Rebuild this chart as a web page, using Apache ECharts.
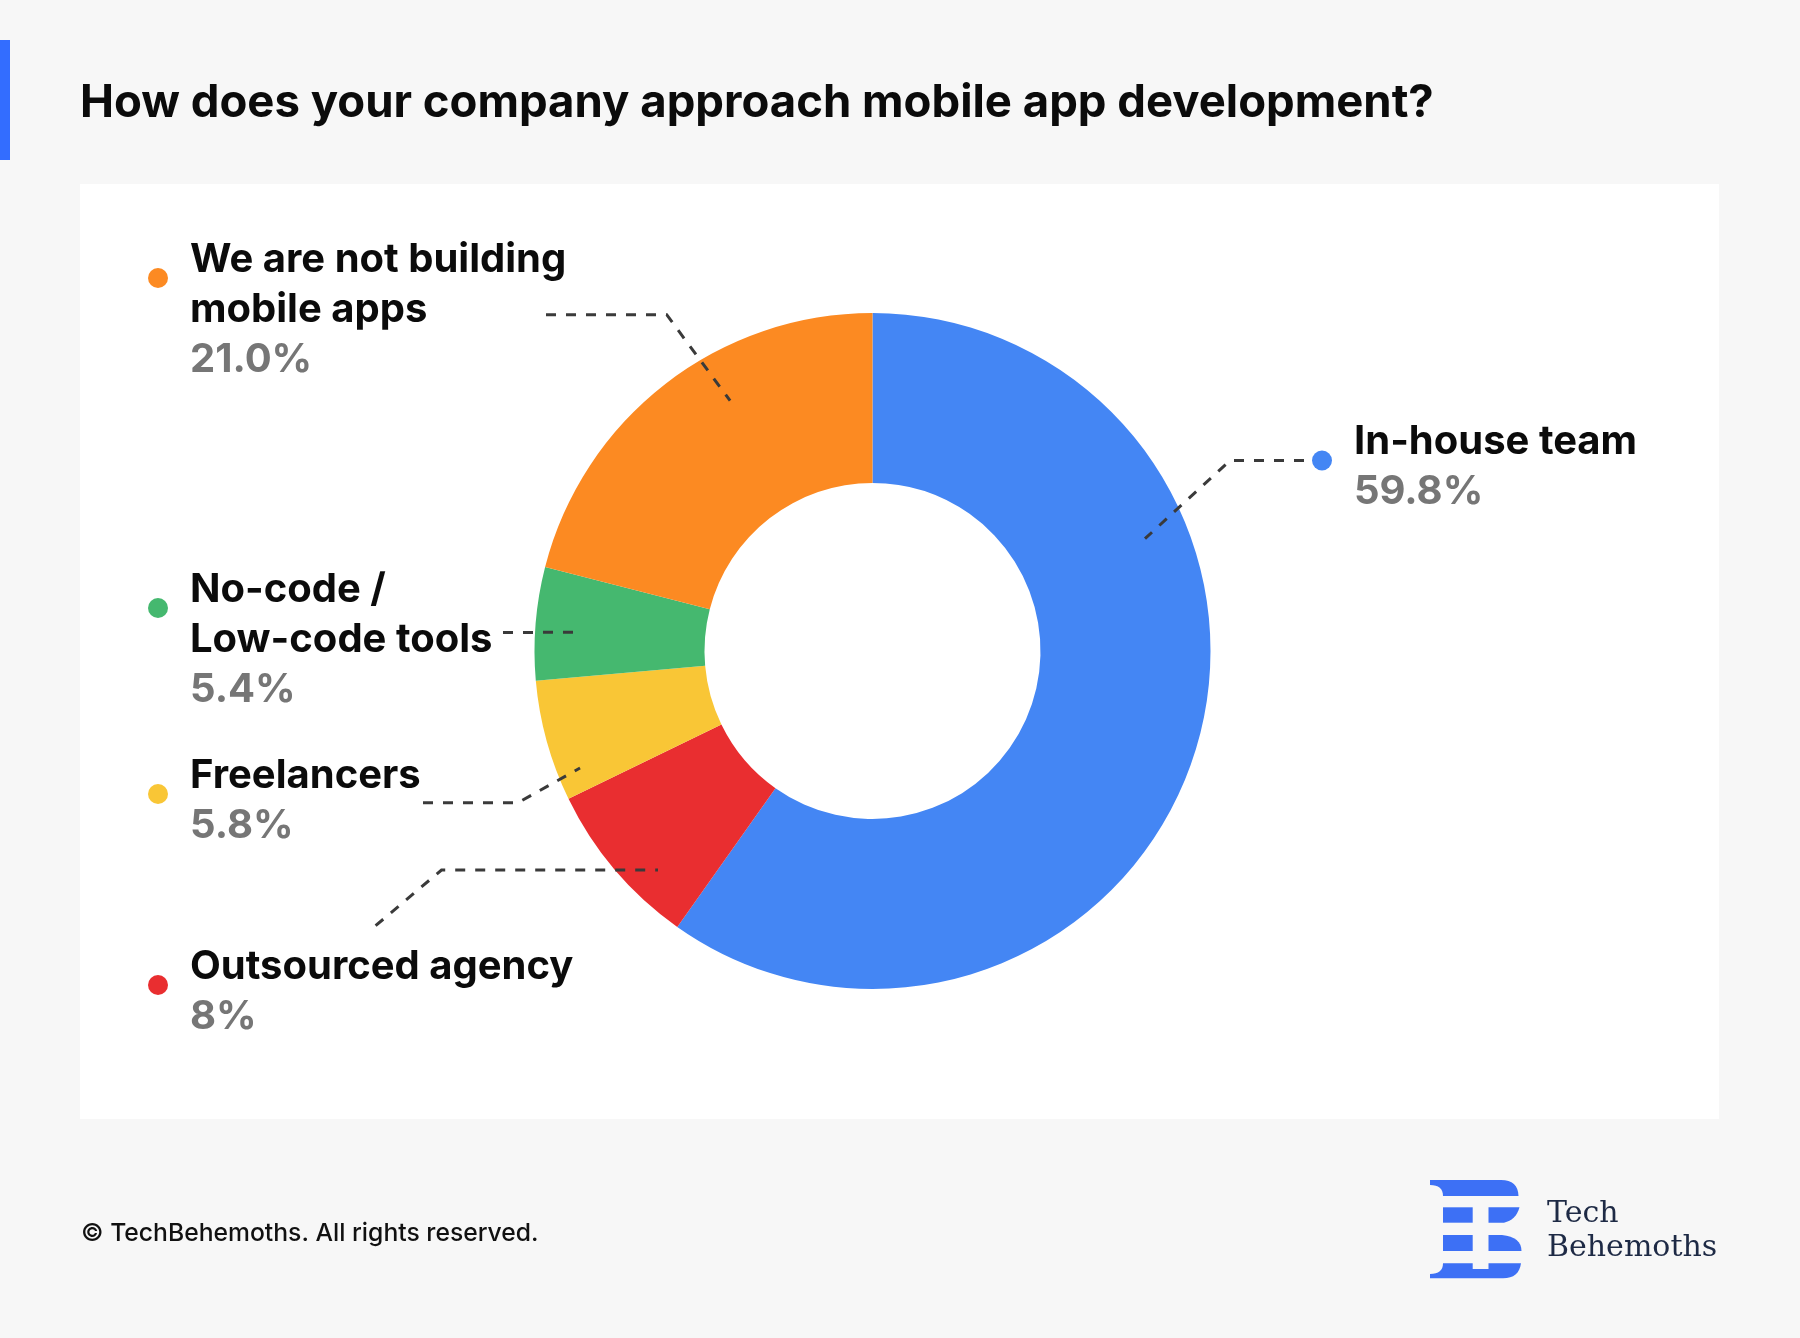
<!DOCTYPE html>
<html>
<head>
<meta charset="utf-8">
<script src="https://cdn.jsdelivr.net/npm/echarts@6.0.0/dist/echarts.min.js"></script>
<style>
  html, body { margin: 0; padding: 0; background: #f7f7f7; }
  #chart { width: 1800px; height: 1338px; }
</style>
</head>
<body>
<div id="chart"></div>
<script>
// data (share of respondents, %)
const categories = ['In-house team', 'Outsourced agency', 'Freelancers', 'No-code /\nLow-code tools', 'We are not building\nmobile apps'];
const shares = [59.8, 8, 5.8, 5.4, 21.0];
const shareDecimals = [1, 0, 1, 1, 1];
const colors = ['#4486f4', '#e92e30', '#f9c636', '#45b86f', '#fc8a22'];

// layout
const CX = 872.5, CY = 651, R_IN = 168, R_OUT = 338;
const LINE_H = 50;
const FONT = 'Inter';
const LOGO_BLUE = '#3d70f5';
// x = left of label text, y = middle of first text line
// t / rf = where the leader starts inside the slice (fraction of slice angle / of outer radius)
const labelSpots = [
  { x: 1354, y: 442, t: 0.314, rf: 0.872, bend: [1230, 460.5], end: [1304, 460.5] },
  { x: 190, y: 966.5, t: 0.317, rf: 0.907, bend: [441.5, 870], end: [375.6, 925.7] },
  { x: 190, y: 775.5, t: 0.197, rf: 0.932, bend: [518, 802.7], end: [423, 802.7] },
  { x: 190, y: 589.5, t: 0.444, rf: 0.885, bend: null, end: [503, 632.5] },
  { x: 190, y: 259.5, t: 0.608, rf: 0.852, bend: [666.7, 314.7], end: [546, 314.7] }
];

const total = shares.reduce((a, b) => a + b, 0);

// point inside slice i (angles clockwise from 12 o'clock, like the pie)
function anchorAt(i, t, rf) {
  let before = 0;
  for (let k = 0; k < i; k++) before += shares[k];
  const deg = (before + shares[i] * t) / total * 360;
  const rad = deg * Math.PI / 180;
  const r = R_OUT * rf;
  return [CX + r * Math.sin(rad), CY - r * Math.cos(rad)];
}

// dashed leader lines, drawn over the ring (label end first)
const leaders = labelSpots.map((s, i) => {
  const pts = [s.end];
  if (s.bend) pts.push(s.bend);
  pts.push(anchorAt(i, s.t, s.rf));
  return {
    type: 'polyline',
    z: 20,
    shape: { points: pts },
    style: { stroke: '#3a3a3a', lineWidth: 3, lineDash: [10, 10], fill: null }
  };
});

// polygon outline from straight points and quadratic curves ({c: ctrl, p: end})
function outline(steps) {
  const pts = [];
  steps.forEach(s => {
    if (Array.isArray(s)) { pts.push(s); return; }
    const p0 = pts[pts.length - 1];
    for (let k = 1; k <= 8; k++) {
      const t = k / 8, u = 1 - t;
      pts.push([u * u * p0[0] + 2 * u * t * s.c[0] + t * t * s.p[0], u * u * p0[1] + 2 * u * t * s.c[1] + t * t * s.p[1]]);
    }
  });
  return { type: 'polygon', shape: { points: pts }, style: { fill: LOGO_BLUE } };
}

const chart = echarts.init(document.getElementById('chart'));

chart.setOption({
  animation: false,
  backgroundColor: '#f7f7f7',
  title: {
    text: 'How does your company approach mobile app development?',
    left: 80,
    top: 80,
    padding: 0,
    textStyle: { fontFamily: FONT, fontSize: 45.5, fontWeight: 700, color: '#0b0b0b', lineHeight: 46 }
  },
  legend: categories.map((name, i) => ({
    data: [name],
    left: labelSpots[i].x - 32 - 10,
    top: labelSpots[i].y + 18.5 - 10,
    padding: 0,
    itemWidth: 20,
    itemHeight: 20,
    icon: 'circle',
    selectedMode: false,
    formatter: () => ''
  })),
  graphic: [
    { type: 'rect', z: -10, shape: { x: 80, y: 184, width: 1639, height: 935 }, style: { fill: '#ffffff' } },
    { type: 'rect', shape: { x: 0, y: 40, width: 10, height: 120 }, style: { fill: '#336dff' } },
    {
      type: 'text',
      style: { text: '\u00a9 TechBehemoths. All rights reserved.', x: 81, y: 1234, verticalAlign: 'middle', font: '500 24.7px Inter', fill: '#111111' }
    },
    {
      type: 'text',
      style: { text: 'Tech\nBehemoths', x: 1547, y: 1197, lineHeight: 34, verticalAlign: 'top', font: '30px "DejaVu Serif"', fill: '#1e2a45' }
    },
    // logo mark
    outline([[1430, 1180], [1501, 1180], { c: [1518, 1180], p: [1518.5, 1196] }, [1443, 1196], { c: [1443, 1185], p: [1430, 1185] }]),
    { type: 'rect', shape: { x: 1443, y: 1207.3, width: 29.7, height: 15.4 }, style: { fill: LOGO_BLUE } },
    outline([[1488.5, 1207.3], [1519.5, 1207.3], { c: [1516, 1220], p: [1504, 1222.7] }, [1488.5, 1222.7]]),
    { type: 'rect', shape: { x: 1443, y: 1235, width: 29.7, height: 16 }, style: { fill: LOGO_BLUE } },
    outline([[1488.5, 1235], [1502, 1235], { c: [1521.5, 1237], p: [1521.5, 1251] }, [1488.5, 1251]]),
    outline([[1443, 1263.3], [1472.7, 1263.3], [1472.7, 1269], [1488.5, 1269], [1488.5, 1263.3], [1521, 1263.3],
      { c: [1519, 1278.3], p: [1503, 1278.3] }, [1430, 1278.3], [1430, 1274], { c: [1443, 1274], p: [1443, 1263.3] }])
  ].concat(leaders),
  series: [{
    type: 'pie',
    center: [CX, CY],
    radius: [R_IN, R_OUT],
    startAngle: 90,
    clockwise: true,
    avoidLabelOverlap: false,
    emphasis: { disabled: true },
    data: categories.map((name, i) => ({ name, value: shares[i], itemStyle: { color: colors[i] } })),
    label: {
      show: true,
      position: 'outside',
      formatter: p => {
        const lines = p.name.split('\n').map(s => '{n|' + s + '}');
        lines.push('{v|' + shares[p.dataIndex].toFixed(shareDecimals[p.dataIndex]) + '%}');
        return lines.join('\n');
      },
      rich: {
        n: { fontFamily: FONT, fontSize: 40, fontWeight: 700, color: '#0b0b0b', lineHeight: LINE_H },
        v: { fontFamily: FONT, fontSize: 40, fontWeight: 700, color: '#767676', lineHeight: LINE_H }
      }
    },
    labelLine: { show: false },
    labelLayout: p => {
      const s = labelSpots[p.dataIndex];
      return { x: s.x, y: s.y - LINE_H / 2, align: 'left', verticalAlign: 'top' };
    }
  }]
});
</script>
</body>
</html>
